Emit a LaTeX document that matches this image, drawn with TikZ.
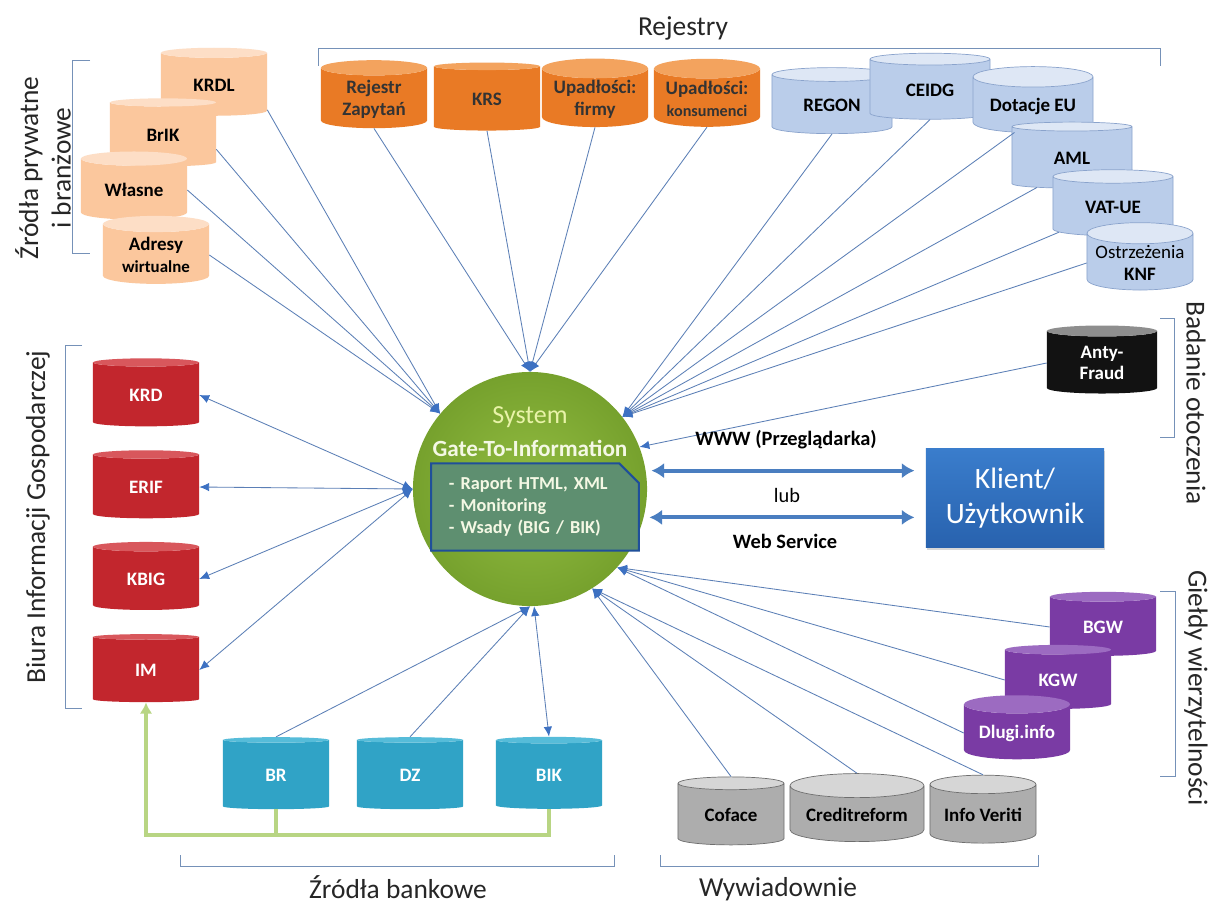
\documentclass[tikz,border=0pt]{standalone}
\usepackage{fontspec}
\setmainfont{Carlito}
\usetikzlibrary{positioning, shapes, calc, arrows.meta, shadows}

% Farbpalette
\definecolor{linienblau}{HTML}{5B7FB6}
\definecolor{spitzenblau}{HTML}{3D71C2}
\definecolor{klammerblau}{HTML}{7591B8}
\definecolor{dickblau}{HTML}{4A7EC0}
\definecolor{orangeKoerper}{HTML}{E97A25}
\definecolor{orangeDeckel}{HTML}{F3A35E}
\definecolor{hellorangeKoerper}{HTML}{FBC79D}
\definecolor{hellorangeDeckel}{HTML}{FDDEC6}
\definecolor{blauKoerper}{HTML}{BACDEA}
\definecolor{blauDeckel}{HTML}{DEE7F5}
\definecolor{blauRand}{HTML}{8AA3CC}
\definecolor{rotKoerper}{HTML}{C2262D}
\definecolor{rotDeckel}{HTML}{D8575C}
\definecolor{tuerkisKoerper}{HTML}{30A3C6}
\definecolor{tuerkisDeckel}{HTML}{56BCD9}
\definecolor{grauKoerper}{HTML}{ADADAD}
\definecolor{grauDeckel}{HTML}{D6D6D6}
\definecolor{grauRand}{HTML}{6E6E6E}
\definecolor{lilaKoerper}{HTML}{7A3BA4}
\definecolor{lilaDeckel}{HTML}{9C6BC1}
\definecolor{schwarzKoerper}{HTML}{121212}
\definecolor{schwarzDeckel}{HTML}{8E8E8E}
\definecolor{kugelHell}{HTML}{93BD42}
\definecolor{kugelDunkel}{HTML}{76A12D}
\definecolor{systemGelb}{HTML}{E8F3A8}
\definecolor{weissGruen}{HTML}{F4F8E4}
\definecolor{kastenGruen}{HTML}{5E8F70}
\definecolor{kastenRand}{HTML}{1F4F9A}
\definecolor{klientOben}{HTML}{3A7DCC}
\definecolor{klientUnten}{HTML}{2862AE}
\definecolor{gruenLeitung}{HTML}{B8D583}

\tikzset{
    baza/.style 2 args={
        cylinder,
        shape border rotate=90,
        aspect=0.23,
        draw=none,
        cylinder uses custom fill,
        cylinder body fill=#1,
        cylinder end fill=#2,
        minimum width=2.65cm,
        minimum height=1.7cm,
        inner sep=1pt,
        align=center,
        font=\bfseries\fontsize{13.5}{15.5}\selectfont
    },
    % Gruppen der Datenquellen
    prywatne/.style={baza={hellorangeKoerper}{hellorangeDeckel}},
    rejestr/.style={baza={orangeKoerper}{orangeDeckel}, text=black!80},
    panstwo/.style={baza={blauKoerper}{blauDeckel}, draw=blauRand, line width=0.5pt, minimum width=3cm, minimum height=1.65cm},
    biuro/.style={baza={rotKoerper}{rotDeckel}, text=white},
    bank/.style={baza={tuerkisKoerper}{tuerkisDeckel}, text=white, minimum height=1.8cm},
    wywiad/.style={baza={grauKoerper}{grauDeckel}, draw=grauRand, line width=0.5pt},
    gielda/.style={baza={lilaKoerper}{lilaDeckel}, text=white, minimum height=1.6cm},
    fraud/.style={baza={schwarzKoerper}{schwarzDeckel}, text=white, minimum width=2.75cm},
    % Verbindungen
    verbindung/.style={draw=linienblau, line width=0.6pt},
    spitze/.style={-{Latex[length=7pt, width=6pt, color=spitzenblau]}},
    doppelspitze/.style={{Latex[length=7pt, width=6pt, color=spitzenblau]}-{Latex[length=7pt, width=6pt, color=spitzenblau]}},
    kanal/.style={draw=dickblau, line width=2.8pt, {Latex[length=9pt, width=11pt]}-{Latex[length=9pt, width=11pt]}, shorten >=8pt},
    gruenleitung/.style={draw=gruenLeitung, line width=2.6pt},
    % Klammern und Gruppentitel
    klammer/.style={draw=klammerblau, line width=0.7pt},
    gruppe/.style={font=\fontsize{19.5}{23}\selectfont, text=black!85},
    kugel/.style={circle, minimum size=5.85cm, inner sep=0pt, shade, inner color=kugelHell, outer color=kugelDunkel},
    funktionen/.style={
        chamfered rectangle,
        chamfered rectangle corners=north east,
        chamfered rectangle sep=7pt,
        fill=kastenGruen,
        draw=kastenRand,
        line width=1.5pt,
        text width=4.3cm,
        minimum height=2.1cm,
        inner xsep=0.2cm,
        align=left,
        text=weissGruen,
        font=\bfseries\fontsize{13}{15.5}\selectfont
    },
    klient/.style={
        rectangle,
        top color=klientOben,
        bottom color=klientUnten,
        minimum width=4.45cm,
        minimum height=2.475cm,
        align=center,
        text=white,
        font=\fontsize{21}{25}\selectfont,
        drop shadow={opacity=0.3, shadow xshift=1pt, shadow yshift=-1.5pt}
    },
    beschriftung/.style={font=\bfseries\fontsize{14.5}{17}\selectfont}
}

\begin{document}
\begin{tikzpicture}[x=0.025cm, y=-0.025cm]

    % Zeichenfläche in Pixelkoordinaten (Ursprung oben links)
    \fill[white] (0,0) rectangle (1212,907);
    \useasboundingbox (0,0) rectangle (1212,907);

    % Zentrales System als Kugel mit Inhaltskasten
    \node[kugel] (sys) at (530,489) {};
    \node[font=\fontsize{18.5}{20}\selectfont, text=systemGelb] (systitel) at (530,417) {System};
    \node[font=\bfseries\fontsize{16.5}{18}\selectfont, text=weissGruen] (gti) at (530,448) {Gate-To-Information};
    \node[funktionen] (inhalt) at (535,507) {- Raport HTML, XML\\- Monitoring\\- Wsady (BIG / BIK)};

    % Klient rechts daneben
    \node[klient] (klient) at (1015,498) {Klient/\\Użytkownik};

    % Private Quellen, gestaffelt von oben rechts nach unten links
    \node[prywatne] (KRDL) at (214,85) {KRDL};
    \node[prywatne] (BrIK) at (163,135) {BrIK};
    \node[prywatne] (Wlasne) at (134,190) {Własne};
    \node[prywatne] (Adresy) at (156,255) {Adresy\\{\fontsize{12}{14}\selectfont wirtualne}};

    % Register (orange Reihe)
    \node[rejestr] (RejZap) at (374,99) {Rejestr\\Zapytań};
    \node[rejestr] (KRS) at (487,99) {KRS};
    \node[rejestr] (UpFirmy) at (595,99) {Upadłości:\\firmy};
    \node[rejestr] (UpKons) at (707,99) {Upadłości:\\{\fontsize{11.5}{14}\selectfont konsumenci}};

    % Staatliche Register (hellblau), treppenartig nach rechts unten
    \node[panstwo] (REGON) at (832,105) {REGON};
    \node[panstwo] (CEIDG) at (930,90) {CEIDG};
    \node[panstwo] (DotEU) at (1033,106) {Dotacje EU};
    \node[panstwo] (AML) at (1072,158) {AML};
    \node[panstwo] (VATUE) at (1113,207) {VAT-UE};
    \node[panstwo, minimum width=2.65cm, minimum height=1.58cm] (KNF) at (1140,263) {{\mdseries Ostrzeżenia}\\KNF};

    % Anty-Fraud
    \node[fraud] (Fraud) at (1102,363) {Anty-\\Fraud};

    % Biura Informacji Gospodarczej (rot)
    \node[biuro] (KRD) at (146,395) {KRD};
    \node[biuro] (ERIF) at (146,487) {ERIF};
    \node[biuro] (KBIG) at (146,579) {KBIG};
    \node[biuro] (IM) at (146,670) {IM};

    % Bankquellen (türkis)
    \node[bank] (BR) at (276,775) {BR};
    \node[bank] (DZ) at (410,775) {DZ};
    \node[bank] (BIK) at (549,775) {BIK};

    % Wirtschaftsauskunfteien (grau)
    \node[wywiad] (Coface) at (731,815) {Coface};
    \node[wywiad, minimum width=3.35cm] (Creditreform) at (857,815) {Creditreform};
    \node[wywiad] (InfoVeriti) at (983,815) {Info Veriti};

    % Forderungsbörsen (lila)
    \node[gielda] (BGW) at (1103,627) {BGW};
    \node[gielda] (KGW) at (1058,680) {KGW};
    \node[gielda] (Dlugi) at (1017,733) {Dlugi.info};

    % Verbindungen der privaten Quellen
    \draw[verbindung, spitze] (KRDL.-25) -- (sys.140);
    \draw[verbindung, spitze] (BrIK.-15) -- (sys.140);
    \draw[verbindung, spitze] (Wlasne.east) -- (sys.140);
    \draw[verbindung, spitze] (Adresy.east) -- (sys.140);

    % Verbindungen der Register
    \draw[verbindung, spitze] (RejZap.south) -- (sys.90);
    \draw[verbindung, spitze] (KRS.south) -- (sys.90);
    \draw[verbindung, spitze] (UpFirmy.south) -- (sys.90);
    \draw[verbindung, spitze] (UpKons.south) -- (sys.90);

    \draw[verbindung, spitze] (REGON.south) -- (sys.38);
    \draw[verbindung, spitze] (CEIDG.south) -- (sys.38);
    \draw[verbindung, spitze] (DotEU.235) -- (sys.38);
    \draw[verbindung, spitze] (AML.220) -- (sys.38);
    \draw[verbindung, spitze] (VATUE.205) -- (sys.38);
    \draw[verbindung, spitze] (KNF.west) -- (sys.38);

    \draw[verbindung, spitze] (Fraud.west) -- (sys.21);

    % BIG: Pfeile in beide Richtungen
    \draw[verbindung, doppelspitze] (sys.180) -- (KRD.east);
    \draw[verbindung, doppelspitze] (sys.180) -- (ERIF.east);
    \draw[verbindung, doppelspitze] (sys.180) -- (KBIG.east);
    \draw[verbindung, doppelspitze] (sys.180) -- (IM.east);

    % Bankquellen
    \draw[verbindung, spitze] (BR.north) -- (sys.270);
    \draw[verbindung, spitze] (DZ.north) -- (sys.270);
    \draw[verbindung, doppelspitze] (sys.272) -- (BIK.north);

    % Auskunfteien und Börsen
    \draw[verbindung, spitze] (Coface.north) -- (sys.-58);
    \draw[verbindung, spitze] (Creditreform.north) -- (sys.-58);
    \draw[verbindung, spitze] (InfoVeriti.north) -- (sys.-58);
    \draw[verbindung, spitze] (BGW.west) -- (sys.-42);
    \draw[verbindung, spitze] (KGW.west) -- (sys.-42);
    \draw[verbindung, spitze] (Dlugi.west) -- (sys.-42);

    % Grüne Rückleitung von BR und BIK zu IM
    \coordinate (unten) at (0,835);
    \draw[gruenleitung] (BR.south) -- (BR.south |- unten);
    \draw[gruenleitung, -{Latex[length=8pt, width=9pt]}] (BIK.south) |- (IM.south |- unten) -- (IM.south);

    % Kanäle zum Klienten
    \draw[kanal, shorten <=4pt] (sys.9) -- (sys.9 -| klient.west);
    \draw[kanal, shorten <=4pt] (sys.-14) -- (sys.-14 -| klient.west);
    \node[beschriftung] (www) at (786,440) {WWW (Przeglądarka)};
    \node[font=\fontsize{14.5}{17}\selectfont] (lub) at (787,495) {lub};
    \node[beschriftung] (ws) at (785,541) {Web Service};

    % Klammern der Gruppen
    \draw[klammer] (318,66) -- (318,48) -- (1160,48) -- (1160,66);
    \draw[klammer] (90,60) -- (72,60) -- (72,253) -- (90,253);
    \draw[klammer] (82,345) -- (65,345) -- (65,708) -- (82,708);
    \draw[klammer] (180,855) -- (180,866) -- (614,866) -- (614,855);
    \draw[klammer] (660,855) -- (660,866) -- (1038,866) -- (1038,855);
    \draw[klammer] (1160,318) -- (1174,318) -- (1174,437) -- (1160,437);
    \draw[klammer] (1160,591) -- (1175,591) -- (1175,776) -- (1160,776);

    % Gruppentitel
    \node[gruppe] (rejestry) at (683,28) {Rejestry};
    \node[gruppe, rotate=90, align=center] (prywatneTitel) at (43,168) {Źródła prywatne\\i branżowe};
    \node[gruppe, rotate=90] (bigTitel) at (38,517) {Biura Informacji Gospodarczej};
    \node[gruppe, rotate=-90] (otoczenie) at (1196,403) {Badanie otoczenia};
    \node[gruppe, rotate=-90] (gieldy) at (1196,688) {Giełdy wierzytelności};
    \node[gruppe] (bankowe) at (398,887) {Źródła bankowe};
    \node[gruppe] (wywiadownie) at (778,889) {Wywiadownie};

\end{tikzpicture}
\end{document}
